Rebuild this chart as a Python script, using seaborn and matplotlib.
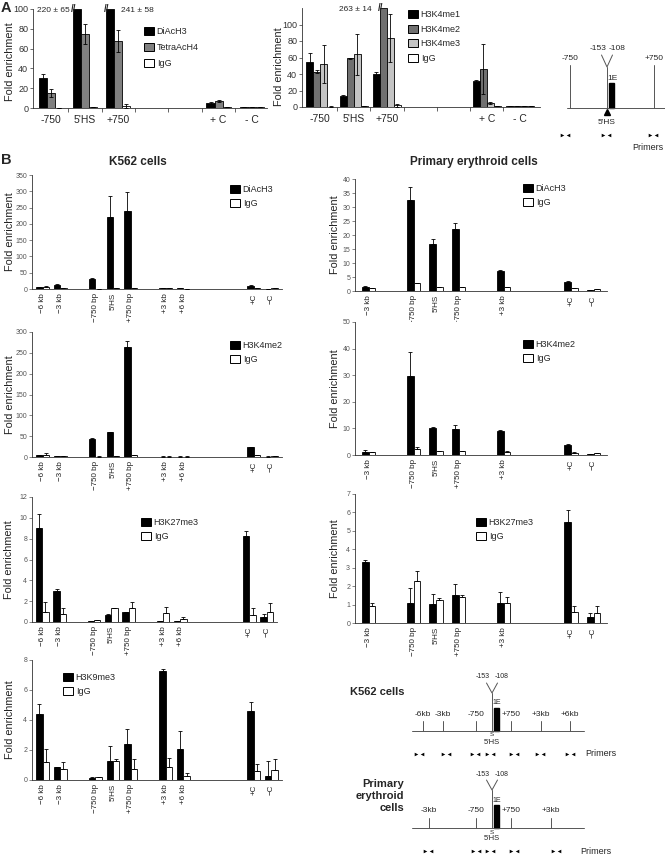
import numpy as np
import pandas as pd
import matplotlib
matplotlib.use("Agg")
import matplotlib.pyplot as plt
from matplotlib.patches import Patch, Rectangle
import seaborn as sns

sns.set_theme(style="ticks")
plt.rcParams["font.family"] = ["Liberation Sans", "DejaVu Sans"]

# ------------------------------------------------------------
# DATA
# ------------------------------------------------------------

# Panel A, left: acetylation
A_SLOTS = ["-750", "5'HS", "+750", "", "", "+ C", "- C"]
A1_SERIES = ["DiAcH3", "TetraAcH4", "IgG"]
A1_VALUES = [[30, 220, 241, 5, 1],
             [15, 75, 68, 7, 1],
             [0.3, 1, 2, 1, 1.2]]
A1_ERRORS = [[4, 65, 58, 1, 0.3],
             [4, 10, 11, 0.7, 0.3],
             [0.2, 0.3, 2, 0.3, 0.3]]

# Panel A, middle: H3K4 methylation
A2_SERIES = ["H3K4me1", "H3K4me2", "H3K4me3", "IgG"]
A2_VALUES = [[55, 13, 40, 31, 1],
             [43, 59, 263, 46, 1],
             [52, 64, 84, 5, 1],
             [0.5, 1, 2, 1, 1]]
A2_ERRORS = [[10, 1, 3, 2, 0.2],
             [2, 0.5, 14, 30, 0.2],
             [23, 25, 29, 1, 0.2],
             [0.2, 0.2, 2, 0.2, 0.2]]

# Panel B sites
K562_SLOTS = ["−6 kb", "−3 kb", "", "−750 bp", "5'HS", "+750 bp", "",
              "+3 kb", "+6 kb", "", "", "", "+C", "−C"]
PRIM_SLOTS = ["−3 kb", "", "−750 bp", "5'HS", "+750 bp", "", "+3 kb",
              "", "", "+C", "−C"]

# K562 cells
K_DIACH3 = [6, 12, 30, 220, 241, 2, 2, 10, 1]
K_DIACH3_ERR = [1, 3, 5, 65, 58, 0.5, 0.5, 1, 0.3]
K_IGG1 = [7, 2, 1, 2, 4, 2, 1, 4, 2]
K_IGG1_ERR = [2, 0.5, 0.3, 0.5, 0.5, 0.3, 0.3, 0.5, 1]

K_H3K4ME2 = [5, 3, 44, 60, 264, 1, 1, 24, 1]
K_H3K4ME2_ERR = [1, 0.5, 1, 1, 14, 0.3, 0.3, 1, 0.3]
K_IGG2 = [6, 2, 1, 2, 4, 1, 1, 4, 1.5]
K_IGG2_ERR = [3, 0.3, 0.3, 0.3, 0.5, 0.3, 0.3, 0.5, 0.3]

K_H3K27ME3 = [9.0, 3.0, 0.1, 0.7, 0.95, 0.05, 0.1, 8.3, 0.5]
K_H3K27ME3_ERR = [1.35, 0.2, 0.02, 0.03, 0.03, 0.01, 0.03, 0.4, 0.3]
K_IGG3 = [1.0, 0.75, 0.15, 1.3, 1.3, 0.9, 0.25, 0.7, 1.0]
K_IGG3_ERR = [0.9, 0.55, 0.02, 0.08, 0.65, 0.55, 0.25, 0.65, 0.8]

K_H3K9ME3 = [4.4, 0.85, 0.15, 1.3, 2.4, 7.3, 2.1, 4.6, 0.3]
K_H3K9ME3_ERR = [0.7, 0.05, 0.02, 1.0, 1.0, 0.1, 1.2, 0.6, 0.95]
K_IGG4 = [1.2, 0.75, 0.2, 1.3, 0.75, 0.85, 0.3, 0.6, 0.65]
K_IGG4_ERR = [0.85, 0.45, 0.02, 0.1, 0.65, 0.6, 0.2, 0.5, 0.75]

# Primary erythroid cells
P_DIACH3 = [1.5, 32.5, 16.8, 22.2, 7.0, 3.2, 0.2]
P_DIACH3_ERR = [0.2, 4.5, 1.7, 2.1, 0.4, 0.3, 0.05]
P_IGG1 = [1.1, 2.7, 1.3, 1.4, 1.3, 0.9, 0.7]
P_IGG1_ERR = [0.1, 0.2, 0.1, 0.1, 0.1, 0.1, 0.1]

P_H3K4ME2 = [1.0, 29.7, 10.2, 9.9, 9.2, 3.9, 0.3]
P_H3K4ME2_ERR = [1.0, 9.1, 0.5, 1.3, 0.3, 0.3, 0.05]
P_IGG2 = [1.1, 2.3, 1.4, 1.5, 1.3, 0.9, 0.8]
P_IGG2_ERR = [0.1, 0.7, 0.1, 0.1, 0.1, 0.1, 0.1]

P_H3K27ME3 = [3.3, 1.1, 1.05, 1.5, 1.1, 5.5, 0.3]
P_H3K27ME3_ERR = [0.1, 0.8, 0.55, 0.6, 0.6, 0.65, 0.25]
P_IGG3 = [0.9, 2.3, 1.25, 1.4, 1.1, 0.6, 0.55]
P_IGG3_ERR = [0.2, 0.5, 0.1, 0.1, 0.3, 0.3, 0.35]

# ------------------------------------------------------------
# LAYOUT HELPERS (pixel coordinates of a 665 x 866 canvas)
# ------------------------------------------------------------
W, H = 665, 866
fig = plt.figure(figsize=(W / 100, H / 100), dpi=100)


def px_rect(l, t, r, b):
    return [l / W, 1 - b / H, (r - l) / W, (b - t) / H]


def draw_bars(ax, slots, names, values, errors, colors, top, width,
              both_sides=False):
    order = [s if s else f"_gap{i}" for i, s in enumerate(slots)]
    sites = [s for s in slots if s]
    rows = []
    for name, vals, errs in zip(names, values, errors):
        for site, v, e in zip(sites, vals, errs):
            rows.append({"site": site, "series": name, "raw": v,
                         "value": min(v, top), "err": e})
    df = pd.DataFrame(rows)
    sns.barplot(data=df, x="site", y="value", hue="series", order=order,
                hue_order=names, palette=dict(zip(names, colors)),
                saturation=1, edgecolor="black", linewidth=0.6,
                errorbar=None, width=width, legend=False, ax=ax)
    clipped = []
    for cont, name in zip(ax.containers, names):
        sub = df[df["series"] == name].set_index("site")
        for bar in cont:
            xc = bar.get_x() + bar.get_width() / 2
            site = order[int(round(xc))]
            row = sub.loc[site]
            if row["raw"] > top:
                clipped.append((bar, row["raw"], row["err"]))
                continue
            e = row["err"]
            ax.errorbar(xc, bar.get_height(),
                        yerr=[[e if both_sides else 0], [e]],
                        fmt="none", ecolor="black", elinewidth=0.6,
                        capsize=1.6, capthick=0.6, zorder=5)
    ax.set_xlim(-0.6, len(order) - 0.4)
    ax.set_ylim(0, top)
    ax.set_xlabel("")
    return order, clipped


def style_axis(ax, ticks, tick_fs, label_x_px, left_px, right_px,
               label_fs=7.8, label_y=0.5):
    ax.set_yticks(ticks)
    ax.tick_params(axis="y", labelsize=tick_fs, length=2, width=0.5,
                   pad=1.5, colors="#333333")
    for s in ["top", "right"]:
        ax.spines[s].set_visible(False)
    for s in ["left", "bottom"]:
        ax.spines[s].set_linewidth(0.6)
        ax.spines[s].set_color("#333333")
    # label x is the centre of the rotated text; matplotlib anchors its right edge
    ax.set_ylabel("Fold enrichment", fontsize=label_fs, color="#222222")
    ax.yaxis.set_label_coords((label_x_px + 5.5 - left_px) / (right_px - left_px),
                              label_y)


def add_legend(ax, names, colors, x_px, y_px, fs, spacing=0.55):
    handles = [Patch(facecolor=c, edgecolor="black", linewidth=0.7)
               for c in colors]
    ax.legend(handles, names, loc="upper left",
              bbox_to_anchor=(x_px / W, 1 - y_px / H),
              bbox_transform=fig.transFigure, frameon=False, fontsize=fs,
              handlelength=1.1, handleheight=1.0, handletextpad=0.3,
              labelspacing=spacing, borderpad=0, borderaxespad=0)


def b_panel(rect, slots, name, vals, errs, igg, igg_err, top, step, width,
            leg_xy, label_x_px):
    l, t, r, b = rect
    ax = fig.add_axes(px_rect(l, t, r, b))
    order, _ = draw_bars(ax, slots, [name, "IgG"], [vals, igg],
                         [errs, igg_err], ["black", "white"], top, width)
    style_axis(ax, np.arange(0, top + step / 2, step), 5, label_x_px, l, r)
    ax.set_xticks(range(len(order)))
    ax.set_xticklabels(slots, rotation=90, fontsize=5.8, va="top")
    ax.tick_params(axis="x", length=0, pad=3, colors="#222222")
    ax.tick_params(axis="y", colors="#555555")
    add_legend(ax, [name, "IgG"], ["black", "white"], *leg_xy, fs=6.5)
    return ax


# ------------------------------------------------------------
# PANEL A
# ------------------------------------------------------------
axA1 = fig.add_axes(px_rect(33, 9, 267, 108))
orderA, clipA1 = draw_bars(axA1, A_SLOTS, A1_SERIES, A1_VALUES, A1_ERRORS,
                           ["black", "#808080", "white"], 100, 0.72,
                           both_sides=True)
style_axis(axA1, np.arange(0, 101, 20), 6.5, 10, 33, 267, label_y=0.47)
axA1.set_xlim(-0.55, 6.45)
add_legend(axA1, A1_SERIES, ["black", "#808080", "white"], 144, 27, 6.5,
           spacing=0.75)

axA2 = fig.add_axes(px_rect(302, 8, 540, 107))
_, clipA2 = draw_bars(axA2, A_SLOTS, A2_SERIES, A2_VALUES, A2_ERRORS,
                      ["black", "#707070", "#c4c4c4", "white"], 120, 0.84,
                      both_sides=True)
style_axis(axA2, np.arange(0, 101, 20), 6.5, 279, 302, 540, label_y=0.41)
axA2.set_xlim(-0.55, 6.6)
add_legend(axA2, A2_SERIES, ["black", "#707070", "#c4c4c4", "white"],
           408, 10, 6.5, spacing=0.6)

for ax in (axA1, axA2):
    ax.set_xticks([i for i, s in enumerate(A_SLOTS) if s])
    ax.set_xticklabels([s for s in A_SLOTS if s], fontsize=7.5)
    ax.tick_params(axis="x", length=0, pad=5)
    ax.set_xticks(np.arange(0.5, len(A_SLOTS) - 0.5, 1), minor=True)
    ax.tick_params(axis="x", which="minor", length=3, width=0.5,
                   direction="out")

# broken (off-scale) bars with their true value printed beside them
for ax, clipped, sides in ((axA1, clipA1, ["left", "right"]),
                           (axA2, clipA2, ["left"])):
    x0, _ = ax.get_xlim()
    top = ax.get_ylim()[1]
    for (bar, raw, err), side in zip(clipped, sides):
        ax.text(bar.get_x() + bar.get_width() * 0.1, top, "//",
                fontsize=7, ha="center", va="center", clip_on=False,
                fontweight="bold")
        label = f"{raw:.0f} ± {err:.0f}"
        if side == "left":
            # centred in the gap between the axis and the broken bar
            xm = max((x0 + bar.get_x()) / 2, bar.get_x() - 0.75)
            ax.text(xm, top * 0.985, label, ha="center", va="center",
                    fontsize=6)
        else:
            ax.text(bar.get_x() + bar.get_width() + 0.2, top * 0.985,
                    label, ha="left", va="center", fontsize=6)

# ------------------------------------------------------------
# PANEL B
# ------------------------------------------------------------
b_panel((32, 175, 282, 289), K562_SLOTS, "DiAcH3", K_DIACH3, K_DIACH3_ERR,
        K_IGG1, K_IGG1_ERR, 350, 50, 0.72, (230, 185), 9)
b_panel((355, 179, 607, 291), PRIM_SLOTS, "DiAcH3", P_DIACH3, P_DIACH3_ERR,
        P_IGG1, P_IGG1_ERR, 40, 5, 0.6, (523, 184), 335)
b_panel((32, 332, 282, 457), K562_SLOTS, "H3K4me2", K_H3K4ME2,
        K_H3K4ME2_ERR, K_IGG2, K_IGG2_ERR, 300, 50, 0.72, (230, 341), 9)
b_panel((355, 322, 607, 455), PRIM_SLOTS, "H3K4me2", P_H3K4ME2,
        P_H3K4ME2_ERR, P_IGG2, P_IGG2_ERR, 50, 10, 0.6, (523, 340), 335)
b_panel((32, 497, 277, 622), K562_SLOTS, "H3K27me3", K_H3K27ME3,
        K_H3K27ME3_ERR, K_IGG3, K_IGG3_ERR, 12, 2, 0.72, (141, 518), 9)
b_panel((355, 494, 607, 623), PRIM_SLOTS, "H3K27me3", P_H3K27ME3,
        P_H3K27ME3_ERR, P_IGG3, P_IGG3_ERR, 7, 1, 0.6, (476, 518), 335)
b_panel((32, 660, 282, 780), K562_SLOTS, "H3K9me3", K_H3K9ME3,
        K_H3K9ME3_ERR, K_IGG4, K_IGG4_ERR, 8, 2, 0.72, (63, 673), 9)

# ------------------------------------------------------------
# OVERLAY: panel letters, titles, locus diagrams
# ------------------------------------------------------------
ov = fig.add_axes([0, 0, 1, 1], zorder=-1)
ov.set_xlim(0, W)
ov.set_ylim(H, 0)
ov.axis("off")

ov.text(1, 8, "A", fontsize=10.5, fontweight="bold", va="center")
ov.text(1, 160, "B", fontsize=10.5, fontweight="bold", va="center")
ov.text(138, 162, "K562 cells", fontsize=8.5, fontweight="bold",
        ha="center", va="center")
ov.text(474, 162, "Primary erythroid cells", fontsize=8.5,
        fontweight="bold", ha="center", va="center")

LINE = dict(color="#555555", lw=0.7)


def primers(xs, y, label_xy, label_ha="left"):
    for x in xs:
        ov.plot([x - 3], [y], marker=">", ms=2.6, color="black", mec="none")
        ov.plot([x + 3], [y], marker="<", ms=2.6, color="black", mec="none")
    ov.text(*label_xy, "Primers", fontsize=6.5, ha=label_ha, va="center")


def tss_mark(x, y_base, apex, arm_top, label_y, box_top, fs=5):
    ov.plot([x, x], [y_base, apex], **LINE)
    ov.plot([x - 5.5, x, x + 5.5], [arm_top, apex, arm_top], **LINE)
    ov.text(x - 9, label_y, "-153", fontsize=fs, ha="center", va="center")
    ov.text(x + 10, label_y, "-108", fontsize=fs, ha="center", va="center")
    ov.add_patch(Rectangle((x + 2, box_top), 5, y_base - box_top,
                           color="black"))
    ov.text(x + 5, box_top - 5, "1E", fontsize=fs, ha="center", va="center")


# Panel A diagram
A_DIAG_LABELS = ["-750", "+750"]
A_DIAG_X = [570, 654]
ov.plot([567, 665], [108, 108], **LINE)
for lab, x in zip(A_DIAG_LABELS, A_DIAG_X):
    ov.plot([x, x], [108, 65], **LINE)
    ov.text(x, 58, lab, fontsize=6, ha="center", va="center")
tss_mark(607, 108, 67, 55, 48, 83, fs=6)
ov.plot([607], [112], marker="^", ms=4, color="black")
ov.text(607, 123, "5'HS", fontsize=6, ha="center", va="center")
primers([565, 606, 653], 135, (663, 147), "right")

# Panel B diagrams
K_DIAG_LABELS = ["-6kb", "-3kb", "-750", "+750", "+3kb", "+6kb"]
K_DIAG_X = [423, 443, 476, 511, 541, 570]
P_DIAG_LABELS = ["-3kb", "-750", "+750", "+3kb"]
P_DIAG_X = [429, 476, 511, 551]
K_PRIMERS = [419, 446, 475, 490, 514, 540, 570]
P_PRIMERS = [428, 476, 490, 514, 556]

for y0, labels, xs, prim, prim_lab in (
        (731, K_DIAG_LABELS, K_DIAG_X, K_PRIMERS, 585),
        (828, P_DIAG_LABELS, P_DIAG_X, P_PRIMERS, 580)):
    ov.plot([412, 584], [y0, y0], **LINE)
    for lab, x in zip(labels, xs):
        ov.plot([x, x], [y0, y0 - 10], **LINE)
        ov.text(x, y0 - 17, lab, fontsize=6, ha="center", va="center")
    tss_mark(492, y0, y0 - 38, y0 - 48, y0 - 54, y0 - 23)
    ov.text(492, y0 + 4, "S", fontsize=4.5, ha="center", va="center")
    ov.text(492, y0 + 11, "5'HS", fontsize=5.5, ha="center", va="center")
    primers(prim, y0 + 23, (prim_lab, y0 + 23))

ov.text(404, 692, "K562 cells", fontsize=8, fontweight="bold", ha="right",
        va="center")
ov.text(404, 796, "Primary\nerythroid\ncells", fontsize=8,
        fontweight="bold", ha="right", va="center", linespacing=1.25)

fig.savefig("out.png", dpi=100)
